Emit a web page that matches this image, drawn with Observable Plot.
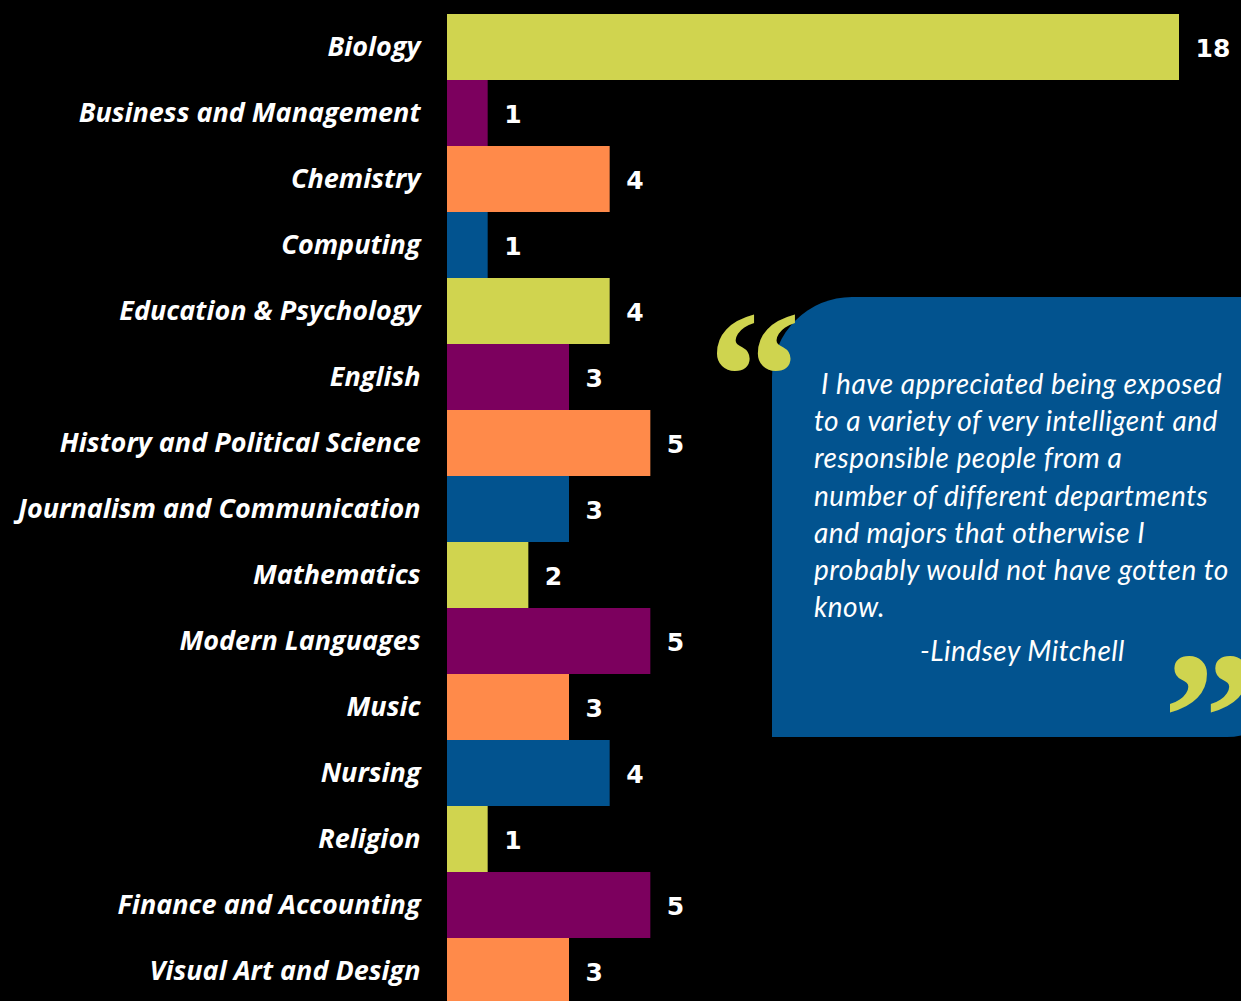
<!DOCTYPE html>
<html>
<head>
<meta charset="utf-8">
<script src="https://cdn.jsdelivr.net/npm/d3@7"></script>
<script src="https://cdn.jsdelivr.net/npm/@observablehq/plot@0.6"></script>
<style>
  html, body { margin: 0; padding: 0; background: #000; overflow: hidden; }
  #wrap { position: relative; width: 1241px; height: 1001px; background: #000; }
  #quote {
    position: absolute; left: 772px; top: 297px; width: 520px; height: 440px;
    background: #02538f; border-radius: 80px 0 65px 0;
  }
  .qt {
    position: absolute; left: 814px; color: #fff; white-space: pre;
    font-family: Lato, "Open Sans", sans-serif; font-style: italic; font-size: 28px;
    letter-spacing: 0.5px; line-height: 1;
  }
  .qm {
    position: absolute; color: #cfd44f; font-family: "Liberation Serif", serif; font-weight: bold;
    font-size: 186px; line-height: 1;
  }
</style>
</head>
<body>
<div id="wrap"></div>
<script>
const categories = ["Biology", "Business and Management", "Chemistry", "Computing",
  "Education & Psychology", "English", "History and Political Science",
  "Journalism and Communication", "Mathematics", "Modern Languages", "Music",
  "Nursing", "Religion", "Finance and Accounting", "Visual Art and Design"];
const counts = [18, 1, 4, 1, 4, 3, 5, 3, 2, 5, 3, 4, 1, 5, 3];
const palette = ["#d0d44f", "#7c005e", "#ff8a4a", "#02538f"];
const quoteLines = [" I have appreciated being exposed", "to a variety of very intelligent and",
  "responsible people from a", "number of different departments",
  "and majors that otherwise I", "probably would not have gotten to", "know."];
const quoteAuthor = "-Lindsey Mitchell";

const data = categories.map((c, i) => ({category: c, count: counts[i], color: palette[i % palette.length]}));

const chart = Plot.plot({
  width: 1241,
  height: 1001,
  style: {background: "#000", color: "#fff", overflow: "visible"},
  x: {domain: [0, 18], range: [447, 1179], axis: null},
  y: {domain: categories, range: [12, 1005], padding: 0, axis: null},
  marks: [
    Plot.barX(data, {x: "count", y: "category", fill: "color"}),
    Plot.text(data, {x: 0, y: "category", text: "category", dx: -27, textAnchor: "end",
      fill: "#fff", fontFamily: "'Open Sans', sans-serif", fontWeight: "bold", fontStyle: "italic", fontSize: 27}),
    Plot.text(data, {x: "count", y: "category", text: d => String(d.count), dx: 16, dy: 1, textAnchor: "start",
      fill: "#fff", fontFamily: "DejaVu Sans, sans-serif", fontWeight: "bold", fontSize: 25})
  ]
});

const wrap = document.getElementById("wrap");
wrap.appendChild(chart);

const box = document.createElement("div");
box.id = "quote";
wrap.appendChild(box);

const lineTop = 369, lineStep = 37.2;
quoteLines.forEach((t, i) => {
  const el = document.createElement("div");
  el.className = "qt";
  el.style.top = (lineTop + i * lineStep) + "px";
  el.textContent = t;
  wrap.appendChild(el);
});
const au = document.createElement("div");
au.className = "qt";
au.style.left = "920px";
au.style.top = (lineTop + 7 * lineStep + 7) + "px";
au.textContent = quoteAuthor;
wrap.appendChild(au);

const open = document.createElement("div");
open.className = "qm";
open.style.left = "708px"; open.style.top = "283px";
open.textContent = "\u201C";
wrap.appendChild(open);
const close = document.createElement("div");
close.className = "qm";
close.style.left = "1163px"; close.style.top = "624px";
close.textContent = "\u201D";
wrap.appendChild(close);
</script>
</body>
</html>
